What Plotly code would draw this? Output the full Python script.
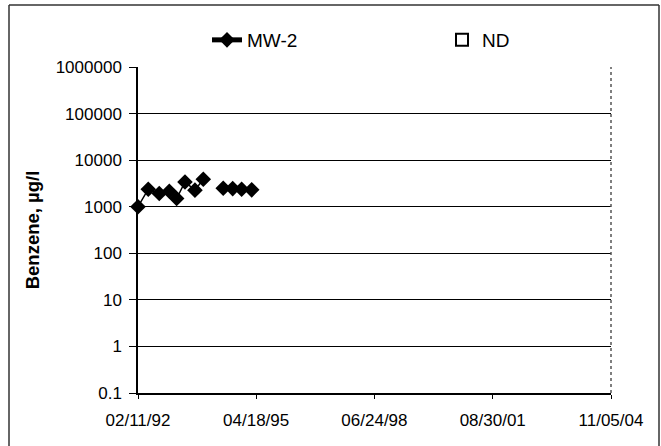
import plotly.graph_objects as go

# Data
dates = ["1992-02-11", "1992-05-22", "1992-09-07", "1992-12-15", "1993-02-25",
         "1993-05-18", "1993-08-24", "1993-11-14", "1994-02-20", "1994-05-29",
         "1994-08-30", "1994-11-26", "1995-03-05"]
mw2 = [1000, 2380, 1920, 2150, 1500, 3400, 2270, 3900, None, 2500, 2450, 2380, 2300]
nd_dates = [None]
nd_vals = [None]

tick_dates = ["1992-02-11", "1995-04-18", "1998-06-24", "2001-08-30", "2004-11-05"]
tick_labels = ["02/11/92", "04/18/95", "06/24/98", "08/30/01", "11/05/04"]
y_ticks = [0.1, 1, 10, 100, 1000, 10000, 100000, 1000000]
y_labels = ["0.1", "1", "10", "100", "1000", "10000", "100000", "1000000"]

fig = go.Figure()
fig.add_trace(go.Scatter(
    x=dates, y=mw2, name="MW-2", mode="lines+markers",
    connectgaps=False, cliponaxis=False,
    line=dict(color="black", width=1.5),
    marker=dict(symbol="diamond", size=12, color="black"),
    legendwidth=190,
))
fig.add_trace(go.Scatter(
    x=nd_dates, y=nd_vals, name="ND", mode="markers",
    marker=dict(symbol="square-open", size=9, color="black", line=dict(width=2)),
    legendwidth=40,
))

W, H = 661, 446
L, R, T, B = 138, 50, 67, 53
pw = W - L - R
ph = H - T - B

def px(x):
    return (x - L) / pw

def py(y):
    return 1 - (y - T) / ph

fig.update_layout(
    width=W, height=H,
    margin=dict(l=L, r=R, t=T, b=B),
    paper_bgcolor="white", plot_bgcolor="white",
    font=dict(family="Liberation Sans, Arial, sans-serif", size=17, color="black"),
    showlegend=True,
    legend=dict(
        orientation="h", x=px(207), y=py(40), xanchor="left", yanchor="middle",
        entrywidthmode="pixels",
        font=dict(size=19), bgcolor="rgba(0,0,0,0)",
        itemsizing="constant",
    ),
    xaxis=dict(
        type="date",
        range=["1992-02-11", "2004-11-05"],
        tickvals=tick_dates, ticktext=tick_labels,
        showgrid=False, zeroline=False,
        showline=True, linecolor="black", linewidth=1.5,
        ticks="outside", ticklen=4, tickcolor="black",
        tickfont=dict(size=17),
        ticklabelstandoff=7,
    ),
    yaxis=dict(
        type="log",
        range=[-1, 6],
        tickvals=y_ticks, ticktext=y_labels,
        showgrid=True, gridcolor="black", gridwidth=1,
        zeroline=False,
        showline=True, linecolor="black", linewidth=1.5,
        ticks="outside", ticklen=7, tickcolor="black",
        tickfont=dict(size=17),
        ticklabelstandoff=4,
        title=dict(text="<b>Benzene, µg/l</b>", font=dict(size=18.5), standoff=11),
    ),
    shapes=[
        # plot area right border (dotted)
        dict(type="line", xref="paper", yref="paper", x0=1, x1=1, y0=0, y1=1,
             line=dict(color="#555555", width=1.5, dash="dot")),
        # outer frame
        dict(type="line", xref="paper", yref="paper", x0=px(9), x1=px(659), y0=py(5), y1=py(5),
             line=dict(color="#333333", width=1.5)),
        dict(type="line", xref="paper", yref="paper", x0=px(9), x1=px(9), y0=py(5), y1=py(446),
             line=dict(color="#333333", width=1.5)),
        dict(type="line", xref="paper", yref="paper", x0=px(659), x1=px(659), y0=py(5), y1=py(446),
             line=dict(color="#333333", width=1.5)),
    ],
)

fig.write_html("out.html")
